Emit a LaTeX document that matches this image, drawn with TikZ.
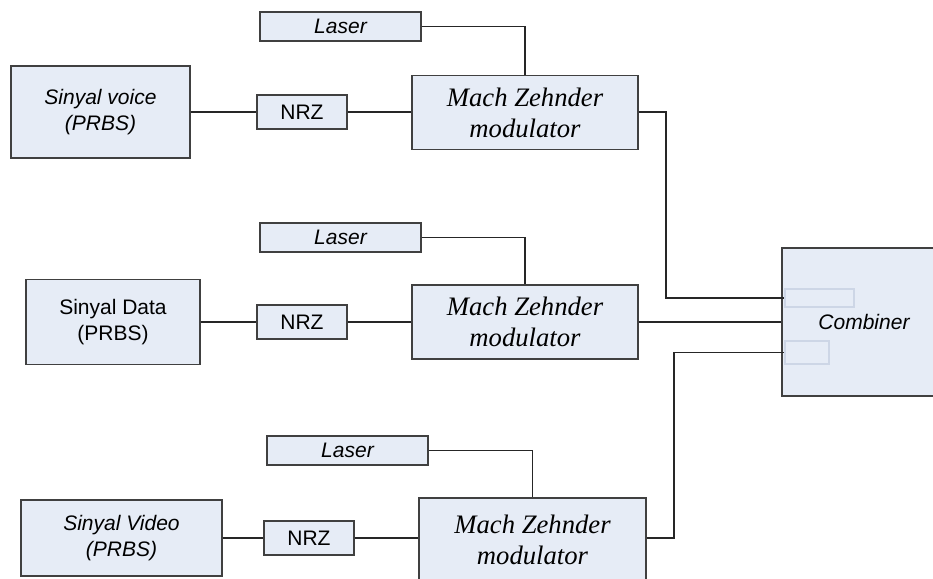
\documentclass[tikz,border=0pt]{standalone}
\usepackage{fontspec}
\newfontfamily\arialfont{Liberation Sans}
\newfontfamily\timesfont{Liberation Serif}
\usetikzlibrary{positioning}

\definecolor{boxfill}{HTML}{E6ECF6}
\definecolor{boxline}{HTML}{404040}
\definecolor{portline}{HTML}{CDD6E6}

\tikzstyle{block}=[draw=boxline, fill=boxfill, line width=1pt, inner sep=0pt, align=center, font=\arialfont\fontsize{15.75}{19.3}\selectfont]
\tikzstyle{mzm}=[block, minimum width=169.5pt, minimum height=55.5pt, font=\timesfont\itshape\fontsize{20}{23.3}\selectfont]
\tikzstyle{laser}=[block, minimum width=120.75pt, minimum height=21.75pt, font=\arialfont\itshape\fontsize{15.75}{19.3}\selectfont]
\tikzstyle{nrz}=[block, minimum width=67.5pt, minimum height=25.5pt]
\tikzstyle{port}=[draw=portline, fill=boxfill, line width=0.8pt, inner sep=0pt]
\tikzstyle{wire}=[draw=black!85, line width=0.8pt]

\begin{document}
\begin{tikzpicture}[x=0.75pt, y=-0.75pt]
          \useasboundingbox (0,0) rectangle (933,579);
          \clip (0,0) rectangle (933,579);

          % voice
          \node (laser1) [laser] at (340.5,26.5) {Laser};
          \node (voice) [block, minimum width=134.25pt, minimum height=69pt, font=\arialfont\itshape\fontsize{15.75}{19.3}\selectfont] at (100.5,112) {Sinyal voice\\(PRBS)};
          \node (nrz1) [nrz] at (302,112) {NRZ};
          \node (mzm1) [mzm] at (525,112.5) {Mach Zehnder\\modulator};

          % data
          \node (laser2) [laser] at (340.5,237.5) {Laser};
          \node (data) [block, minimum width=130.5pt, minimum height=63.75pt] at (113,322) {Sinyal Data\\(PRBS)};
          \node (nrz2) [nrz] at (302,322) {NRZ};
          \node (mzm2) [mzm] at (525,322) {Mach Zehnder\\modulator};

          % video
          \node (laser3) [laser] at (347.5,450.5) {Laser};
          \node (video) [block, minimum width=150.75pt, minimum height=57pt, font=\arialfont\itshape\fontsize{15.75}{19.3}\selectfont] at (121.5,538) {Sinyal Video\\(PRBS)};
          \node (nrz3) [nrz] at (309,538) {NRZ};
          \node (mzm3) [mzm, minimum width=170.25pt, minimum height=63pt] at (532.5,540) {Mach Zehnder\\modulator};

          % combiner (runs off the right edge)
          \node (comb) [block, minimum width=135pt, minimum height=111pt, font=\arialfont\itshape\fontsize{15.75}{19.3}\selectfont] at (872,322) {Combiner\hspace*{12pt}};
          \node (in1) [port, minimum width=51.75pt, minimum height=13.5pt] at (819.5,298) {};
          \node (in3) [port, minimum width=33pt, minimum height=17.25pt] at (807,352.5) {};
          \coordinate (turn1) at (666,112);
          \coordinate (turn3) at (674,538);

          \draw [wire] (voice) -- (nrz1);
          \draw [wire] (nrz1) -- (mzm1.west |- nrz1);
          \draw [wire] (laser1) -| (mzm1);
          \draw [wire] (mzm1.east |- turn1) -- (turn1) |- (in1.west);

          \draw [wire] (data) -- (nrz2);
          \draw [wire] (nrz2) -- (mzm2);
          \draw [wire] (laser2) -| (mzm2);
          \draw [wire] (mzm2) -- (comb.west |- mzm2);

          \draw [wire] (video) -- (nrz3);
          \draw [wire] (nrz3) -- (mzm3.west |- nrz3);
          \draw [wire] (laser3) -| (mzm3);
          \draw [wire] (mzm3.east |- turn3) -- (turn3) |- (in3.west);
    \end{tikzpicture}
\end{document}
